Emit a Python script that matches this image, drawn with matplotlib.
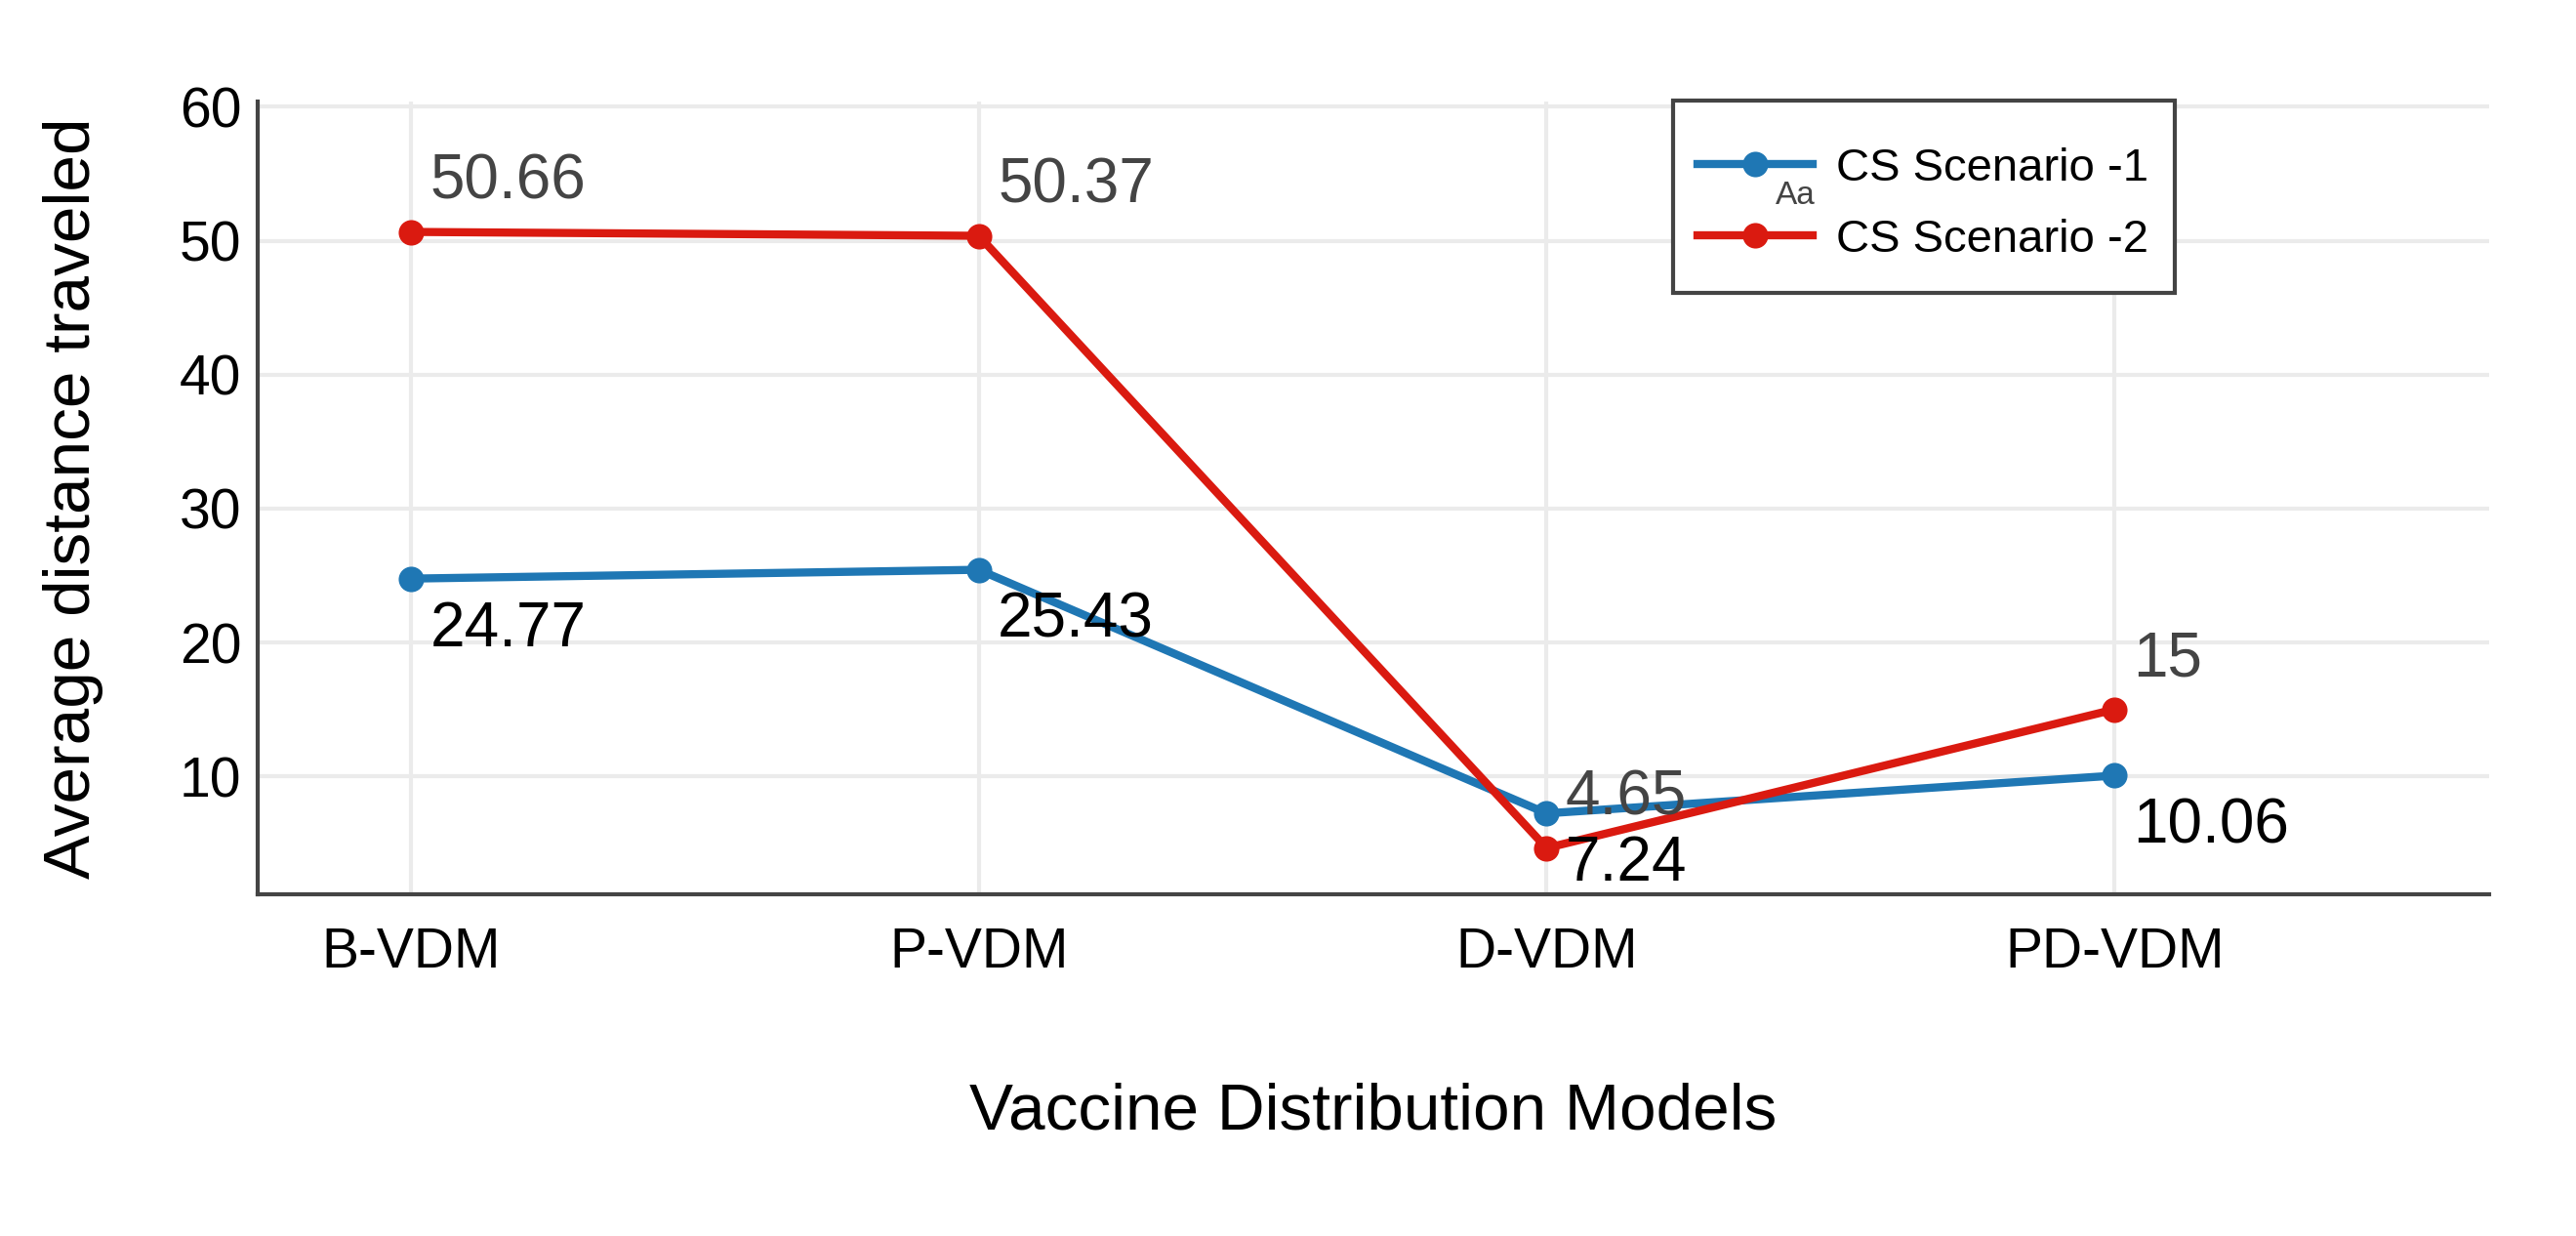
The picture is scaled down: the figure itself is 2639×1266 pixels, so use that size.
import numpy as np
import matplotlib.pyplot as plt
from matplotlib.patches import Rectangle

plt.rcParams['font.family'] = ['Liberation Sans', 'DejaVu Sans']

# data
models = ['B-VDM', 'P-VDM', 'D-VDM', 'PD-VDM']
scenario1 = [24.77, 25.43, 7.24, 10.06]
scenario2 = [50.66, 50.37, 4.65, 15]
labels = ['CS Scenario -1', 'CS Scenario -2']

BLUE = '#1f77b4'
RED = '#da1a10'

fig = plt.figure(figsize=(13.195, 6.33), dpi=200)
ax = fig.add_axes([0.1, 0.2765, 0.8663, 0.6414])

x = np.arange(len(models))
ax.plot(x, scenario1, '-o', color=BLUE, lw=3, ms=8.4, label=labels[0], zorder=3)
ax.plot(x, scenario2, '-o', color=RED, lw=3, ms=8.4, label=labels[1], zorder=3)

# value labels: scenario 2 above (grey), scenario 1 below (black)
for xi, v in zip(x, scenario2):
    ax.annotate(f'{v:g}', (xi, v), xytext=(7, 7.5), textcoords='offset points',
                ha='left', va='bottom', fontsize=23, color='#444444')
for xi, v in zip(x, scenario1):
    ax.annotate(f'{v:g}', (xi, v), xytext=(7, -8), textcoords='offset points',
                ha='left', va='top', fontsize=23, color='black')

ax.set_xlim(-0.27, 3.66)
ax.set_ylim(1.2, 60.4)
ax.set_yticks([10, 20, 30, 40, 50, 60])
ax.set_xticks(x)
ax.set_xticklabels(models)
ax.tick_params(axis='both', length=0, labelsize=20.5)
ax.tick_params(axis='x', pad=12)
ax.tick_params(axis='y', pad=6)

ax.grid(True, color='#ebebeb', lw=1.5)
ax.set_axisbelow(True)
for s in ['top', 'right']:
    ax.spines[s].set_visible(False)
for s in ['left', 'bottom']:
    ax.spines[s].set_color('#444444')
    ax.spines[s].set_linewidth(1.5)

ax.set_xlabel('Vaccine Distribution Models', fontsize=24.3, labelpad=38)
ax.set_ylabel('Average distance traveled', fontsize=24.3, labelpad=28)

# legend box drawn by hand, entries placed inside it
ax.add_patch(Rectangle((0.6495, 0.763), 0.1948, 0.156, transform=fig.transFigure,
                       clip_on=False, facecolor='white', edgecolor='#444444',
                       lw=1.5, zorder=4))
leg = ax.legend(loc='upper left', bbox_to_anchor=(0.659, 0.881),
                bbox_transform=fig.transFigure, fontsize=17, frameon=False,
                handlelength=2.5, handletextpad=0.5, labelspacing=0.62,
                borderpad=0, borderaxespad=0)
leg.set_zorder(6)
fig.text(0.697, 0.842, 'Aa', fontsize=12, color='#444444', ha='center', va='center',
         zorder=7)

fig.savefig('out.png', dpi=200)
